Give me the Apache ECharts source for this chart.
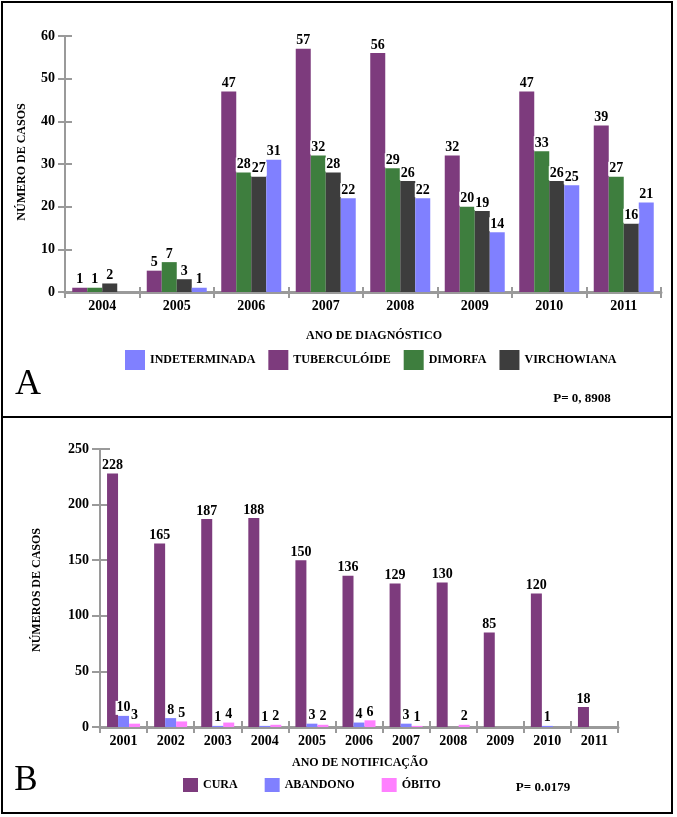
<!DOCTYPE html>
<html>
<head>
<meta charset="utf-8">
<script src="https://cdn.jsdelivr.net/npm/echarts@6/dist/echarts.min.js"></script>
<style>
html,body{margin:0;padding:0;background:#fff;}
#c{width:677px;height:817px;}
</style>
</head>
<body>
<div id="c"></div>
<script>
// Panel A data
var yearsA = ['2004','2005','2006','2007','2008','2009','2010','2011'];
var tuberculoide = [1, 5, 47, 57, 56, 32, 47, 39];
var dimorfa = [1, 7, 28, 32, 29, 20, 33, 27];
var virchowiana = [2, 3, 27, 28, 26, 19, 26, 16];
var indeterminada = [null, 1, 31, 22, 22, 14, 25, 21];
var ticksA = {min: 0, max: 60, interval: 10};

// Panel B data
var yearsB = ['2001','2002','2003','2004','2005','2006','2007','2008','2009','2010','2011'];
var cura = [228, 165, 187, 188, 150, 136, 129, 130, 85, 120, 18];
var abandono = [10, 8, 1, 1, 3, 4, 3, null, null, 1, null];
var obito = [3, 5, 4, 2, 2, 6, 1, 2, null, null, null];
var ticksB = {min: 0, max: 250, interval: 50};

var SERIF = "'Liberation Serif','Times New Roman',serif";
var C = {purple:'#7d3b7d', green:'#3e7e3e', dark:'#3d3d3d', blue:'#8080ff', pink:'#ff80ff'};
var AX = '#9a9a9a';

function lbl(size){
  return {show:true, position:'top', distance:1, color:'#000', fontFamily:SERIF, fontWeight:'bold', fontSize:size,
          backgroundColor:'#fff', padding:[0,1,0,1]};
}
function bar(name, data, color, xi, yi, w){
  return {type:'bar', name:name, data:data, xAxisIndex:xi, yAxisIndex:yi, barWidth:w, barGap:'0%',
          itemStyle:{color:color}, label:lbl(14)};
}
function xMain(data, grid, tickLen){
  return {type:'category', data:data, gridIndex:grid, position:'bottom',
    axisLine:{lineStyle:{color:AX, width:3}},
    axisTick:{show:true, length:tickLen, lineStyle:{color:AX, width:2}},
    axisLabel:{color:'#000', fontFamily:SERIF, fontWeight:'bold', fontSize:14, margin:7}};
}
function xDup(data, grid, tickLen){
  return {type:'category', data:data, gridIndex:grid, position:'bottom',
    axisLine:{show:false}, axisLabel:{show:false},
    axisTick:{show:true, inside:true, length:tickLen, lineStyle:{color:AX, width:2}}};
}
function yMain(t, grid, tickLen, margin){
  return {type:'value', gridIndex:grid, position:'left', min:t.min, max:t.max, interval:t.interval,
    splitLine:{show:false},
    axisLine:{show:true, lineStyle:{color:AX, width:2}},
    axisTick:{show:true, length:tickLen, lineStyle:{color:AX, width:2}},
    axisLabel:{color:'#000', fontFamily:SERIF, fontWeight:'bold', fontSize:14, margin:margin}};
}
function yDup(t, grid, tickLen){
  return {type:'value', gridIndex:grid, position:'left', min:t.min, max:t.max, interval:t.interval,
    splitLine:{show:false}, axisLine:{show:false}, axisLabel:{show:false},
    axisTick:{show:true, inside:true, length:tickLen, lineStyle:{color:AX, width:2}}};
}
function txt(x, y, s, size, weight, rot){
  return {type:'text', x:x, y:y, rotation:rot||0,
    style:{text:s, fill:'#000', font: (weight||'bold') + ' ' + size + 'px ' + SERIF, textAlign:'center', textVerticalAlign:'middle'}};
}

var chart = echarts.init(document.getElementById('c'));
chart.setOption({
  animation:false,
  backgroundColor:'#fff',
  grid:[
    {left:65, top:36, width:596, height:256},
    {left:100, top:449, width:518, height:278}
  ],
  xAxis:[ xMain(yearsA,0,6), xDup(yearsA,0,5), xMain(yearsB,1,6), xDup(yearsB,1,6) ],
  yAxis:[ yMain(ticksA,0,7,10), yDup(ticksA,0,7), yMain(ticksB,1,8,11), yDup(ticksB,1,10) ],
  legend:[
    {data:['INDETERMINADA','TUBERCULÓIDE','DIMORFA','VIRCHOWIANA'], left:125, top:350,
     itemWidth:20, itemHeight:20, itemGap:13, icon:'rect', padding:0, selectedMode:false,
     textStyle:{color:'#000', fontFamily:SERIF, fontWeight:'bold', fontSize:12}},
    {data:['CURA','ABANDONO','ÓBITO'], left:183, top:778,
     itemWidth:15, itemHeight:14, itemGap:27, icon:'rect', padding:0, selectedMode:false,
     textStyle:{color:'#000', fontFamily:SERIF, fontWeight:'bold', fontSize:12}}
  ],
  series:[
    bar('TUBERCULÓIDE', tuberculoide, C.purple, 0, 0, 15),
    bar('DIMORFA', dimorfa, C.green, 0, 0, 15),
    bar('VIRCHOWIANA', virchowiana, C.dark, 0, 0, 15),
    bar('INDETERMINADA', indeterminada, C.blue, 0, 0, 15),
    bar('CURA', cura, C.purple, 2, 2, 11),
    bar('ABANDONO', abandono, C.blue, 2, 2, 11),
    bar('ÓBITO', obito, C.pink, 2, 2, 11)
  ],
  graphic:[
    {type:'rect', shape:{x:2, y:2, width:670, height:415}, style:{fill:'none', stroke:'#000', lineWidth:2}, silent:true},
    {type:'rect', shape:{x:2, y:417, width:670, height:396}, style:{fill:'none', stroke:'#000', lineWidth:2}, silent:true},
    txt(22, 162, 'NÚMERO DE CASOS', 12, 'bold', Math.PI/2),
    txt(374, 336, 'ANO DE DIAGNÓSTICO', 12, 'bold'),
    txt(28, 385, 'A', 36, 'normal'),
    txt(582, 399, 'P= 0, 8908', 13, 'bold'),
    txt(37, 590, 'NÚMEROS DE CASOS', 12, 'bold', Math.PI/2),
    txt(360, 763, 'ANO DE NOTIFICAÇÃO', 12, 'bold'),
    txt(26, 781, 'B', 35, 'normal'),
    txt(543, 788, 'P= 0.0179', 13, 'bold')
  ]
});
</script>
</body>
</html>
